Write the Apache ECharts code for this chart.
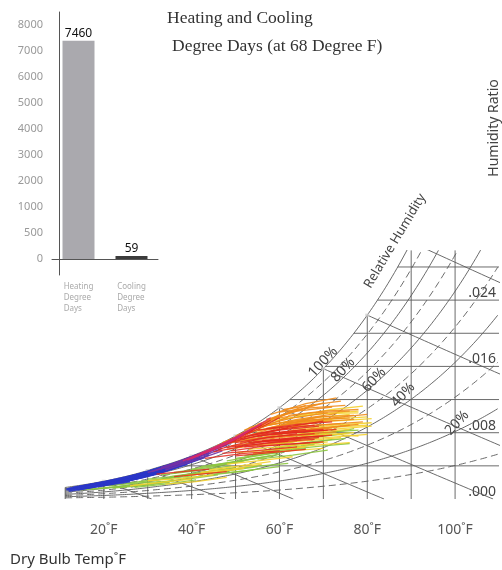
<!DOCTYPE html>
<html><head><meta charset="utf-8">
<script src="https://cdn.jsdelivr.net/npm/echarts@6/dist/echarts.min.js"></script>
<style>html,body{margin:0;padding:0;background:#fff}#c{width:502px;height:570px}</style>
</head><body><div id="c"></div>
<script>
// ---------- Bar inset: degree days ----------
const degreeDayCategories = ['Heating\nDegree\nDays', 'Cooling\nDegree\nDays'];
const degreeDayValues = [7460, 59];
const degreeDayTicks = ['0', '500', '1000', '2000', '3000', '4000', '5000', '6000', '7000', '8000'];

// ---------- Psychrometric chart axes ----------
const dryBulbTicks = [20, 40, 60, 80, 100];            // labelled dry bulb temps (°F)
const gridTemps = [20, 30, 40, 50, 60, 70, 80, 90, 100]; // vertical grid lines (°F)
const gridHumidity = [0.004, 0.008, 0.012, 0.016, 0.020, 0.024, 0.028];
const humidityTicks = [0, 0.008, 0.016, 0.024];
const rhCurves = [10, 20, 30, 40, 50, 60, 70, 80, 90, 100];
const wetBulbTemps = [20, 30, 40, 50, 60, 70, 80, 90, 100];

// ---------- Weather traces: [dry bulb °F, humidity ratio x1000] pairs ----------
const blueTraces = [
  [11.5,1.10, 16,1.55, 22,2.05], [12,1.25, 18,1.80, 24,2.40], [12,0.95, 19,1.55, 26,2.10],
  [13,1.30, 20,2.00, 27,2.75], [14,1.10, 22,1.85, 29,2.60], [15,1.50, 23,2.25, 30,3.20],
  [16,1.35, 24,2.10, 31,2.95], [18,1.70, 26,2.55, 33,3.60], [19,1.60, 27,2.40, 34,3.40],
  [20,1.95, 28,2.90, 35,4.00], [21,1.80, 29,2.70, 36,3.75], [23,2.20, 31,3.25, 38,4.45],
  [24,2.00, 32,3.00, 39,4.20], [25,2.45, 33,3.70, 40,4.95], [26,2.30, 34,3.45, 41,4.70],
  [28,2.85, 35,4.00, 42,5.40], [29,2.60, 36,3.70, 43,5.00], [30,3.20, 37,4.40, 44,5.80],
  [31,2.90, 38,4.10, 44,5.30], [14,1.45, 21,2.20, 28,3.00], [17,1.60, 25,2.50, 32,3.50],
  [22,2.15, 30,3.35, 37,4.50], [27,2.70, 34,3.90, 41,5.30],
  [11.5,1.20, 17,1.75, 23,2.30], [12.5,1.05, 18,1.50, 25,2.20], [13,1.40, 19,1.95, 26,2.65],
  [15,1.25, 21,1.75, 28,2.50], [16,1.60, 22,2.20, 29,3.00], [18,1.55, 25,2.30, 32,3.20],
  [20,1.80, 26,2.45, 33,3.40], [21,2.05, 28,3.00, 35,4.10], [23,2.05, 30,3.00, 36,3.90],
  [24,2.40, 31,3.40, 38,4.60], [26,2.55, 33,3.75, 39,4.70], [28,2.60, 35,3.70, 42,5.10],
  [30,3.00, 36,4.00, 43,5.50], [32,3.40, 38,4.50, 44,5.60], [12,1.15, 15,1.45, 20,1.90]
];
const purpleTraces = [
  [30,3.2, 37,4.3, 44,5.7], [32,3.5, 39,4.8, 46,6.2], [33,3.6, 40,5.0, 47,6.4],
  [35,4.0, 41,5.2, 48,6.7], [34,3.7, 42,5.1, 47,6.1], [36,4.1, 43,5.6, 49,7.0],
  [31,3.3, 38,4.5, 45,6.0], [37,4.5, 44,5.9, 50,7.3],
  [33,3.8, 40,5.0, 46,6.1], [36,4.3, 42,5.5, 48,6.5], [38,4.6, 44,5.7, 50,7.0], [34,3.5, 41,4.7, 47,5.8]
];
const magentaTraces = [
  [38,4.6, 44,5.9, 50,7.4], [41,5.1, 47,6.5, 53,8.2], [44,5.8, 50,7.3, 56,9.1], [40,4.9, 46,6.2, 52,7.8],
  [42,5.5, 48,6.9, 54,8.6], [46,6.3, 52,7.9, 58,9.8], [39,4.7, 45,6.0, 51,7.5]
];
const redTraces = [
  [40,5.0, 47,6.4, 54,8.3], [42,5.4, 49,7.0, 56,8.9], [44,5.9, 51,7.5, 58,9.5],
  [45,6.1, 52,7.6, 60,9.8], [47,6.5, 54,7.8, 62,8.6], [46,6.0, 55,7.2, 64,7.9],
  [48,6.2, 56,6.9, 66,7.4], [50,6.8, 58,7.5, 68,7.9], [49,5.8, 57,6.4, 67,6.8],
  [51,7.2, 60,8.0, 70,8.4], [52,6.3, 61,6.6, 70,6.9], [53,7.6, 61,8.5, 68,8.9],
  [54,6.9, 62,7.3, 72,7.7], [55,8.3, 63,8.8, 70,9.4], [47,5.5, 56,5.9, 64,6.3],
  [43,4.9, 52,5.5, 60,5.8], [56,7.0, 64,7.4, 70,7.6], [50,5.2, 58,5.6, 66,6.0],
  [32,3.0, 38,3.3, 44,3.6], [36,2.7, 42,3.0, 48,3.3],
  [48,6.7, 57,7.9, 66,8.4], [52,7.5, 60,8.3, 69,8.8], [55,7.6, 63,8.0, 71,8.3], [45,5.7, 53,6.5, 62,7.0],
  [57,8.5, 64,9.0, 72,9.3], [50,6.3, 59,6.9, 68,7.2], [53,6.8, 61,7.1, 69,7.4], [58,7.8, 66,8.1, 73,8.4]
];
const orangeTraces = [
  [45,6.2, 53,8.2, 60,10.2], [48,7.0, 56,8.9, 63,10.6], [50,7.6, 58,9.6, 66,11.3],
  [52,8.3, 60,10.0, 68,11.4], [55,9.0, 62,10.3, 70,11.6], [57,9.6, 64,10.6, 72,11.1],
  [58,10.2, 66,11.5, 73,12.2], [60,10.5, 67,11.0, 75,11.3], [53,8.6, 61,9.2, 70,9.5],
  [54,7.5, 63,8.2, 72,8.6], [56,8.0, 65,8.8, 74,9.1], [51,6.8, 60,7.4, 69,7.9],
  [58,8.6, 66,9.5, 76,9.8], [61,9.2, 69,9.9, 77,10.1], [59,7.8, 68,8.4, 76,8.9],
  [62,10.1, 70,10.6, 78,10.8], [49,6.4, 57,7.0, 65,7.2], [63,8.7, 71,9.0, 79,9.3],
  [46,6.5, 54,7.3, 62,7.7], [57,9.0, 63,9.8, 71,10.4],
  [47,6.8, 55,8.4, 62,9.9], [50,7.2, 57,8.3, 65,9.0], [53,8.0, 61,9.0, 70,10.0], [55,8.6, 64,9.6, 73,10.3],
  [59,9.7, 67,10.4, 76,10.6], [60,8.9, 68,9.3, 77,9.6], [52,7.0, 60,7.8, 68,8.3], [56,7.4, 64,7.8, 73,8.1],
  [61,10.8, 68,11.4, 74,11.8], [64,9.4, 72,9.8, 80,10.2], [48,6.0, 56,6.6, 64,7.0], [62,8.2, 70,8.6, 78,9.0]
];
const yellowTraces = [
  [52,7.3, 62,8.6, 72,9.6], [55,8.2, 65,9.3, 75,9.9], [58,9.4, 68,10.2, 78,10.6],
  [60,8.0, 70,8.6, 80,8.9], [57,7.0, 67,7.6, 77,8.0], [62,9.0, 71,9.6, 80,9.9],
  [64,10.0, 72,10.8, 79,11.2], [55,6.4, 65,7.0, 74,7.4], [59,6.0, 68,6.5, 76,6.8],
  [66,8.2, 74,8.5, 81,8.8], [61,7.5, 70,7.9, 78,7.6], [53,6.0, 62,6.4, 71,6.9],
  [68,9.3, 75,9.5, 81,9.7], [50,5.6, 58,5.9, 66,6.3], [30,2.2, 38,2.5, 45,2.9],
  [34,1.8, 41,2.1, 48,2.6],
  [56,8.8, 66,9.7, 76,10.2], [63,8.4, 72,8.9, 81,9.2], [60,9.6, 69,10.3, 78,10.4], [58,7.4, 67,8.0, 76,8.4],
  [65,7.2, 73,7.5, 80,7.8], [54,5.5, 62,5.8, 70,6.1], [38,2.8, 45,3.2, 52,3.7], [42,3.2, 49,3.6, 56,4.2],
  [26,1.6, 33,2.0, 40,2.4], [44,3.5, 51,4.0, 58,4.5], [48,4.2, 55,4.6, 63,5.1]
];
const greenTraces = [
  [25,1.9, 32,2.3, 40,2.8], [28,2.1, 36,2.6, 44,3.2], [33,2.9, 41,3.4, 49,4.0],
  [36,3.2, 44,3.8, 52,4.6], [40,3.6, 48,4.3, 56,5.0], [44,4.0, 52,4.7, 60,5.4],
  [48,4.6, 56,5.3, 64,6.0], [52,5.2, 60,5.8, 68,6.6], [56,5.8, 64,6.5, 72,7.2],
  [60,6.6, 68,7.4, 76,8.0], [63,7.2, 70,7.8, 77,8.5], [46,3.4, 54,3.9, 62,4.3],
  [38,2.5, 46,3.0, 54,3.5], [55,4.8, 63,5.3, 71,5.9], [58,6.8, 66,7.5, 74,7.8],
  [62,6.0, 70,6.4, 76,6.7], [20,1.6, 27,1.9, 33,2.1], [14,1.1, 20,1.3, 26,1.6],
  [30,2.4, 37,2.8, 44,3.3], [35,2.7, 42,3.2, 50,3.8], [42,3.9, 50,4.5, 58,5.2], [50,4.9, 58,5.5, 66,6.1],
  [54,5.4, 62,6.1, 70,6.9], [59,6.2, 67,6.9, 75,7.3], [65,7.6, 72,8.1, 78,8.3], [24,1.5, 30,1.8, 36,2.2],
  [45,3.0, 52,3.4, 60,3.9], [17,1.2, 23,1.5, 29,1.8],
  [22,1.3, 28,1.6, 35,2.0], [27,1.4, 34,1.8, 41,2.3], [32,2.0, 39,2.4, 46,2.9], [40,2.9, 47,3.3, 55,3.9]
];

// ---------- psychrometric relations (chart structure) ----------
const P_ATM = 101.325, T_MIN = 11.2, T_MAX = 110, W_MAX = 0.030;
function pws(tf) {
  const c = (tf - 32) / 1.8;
  return c < 0 ? 0.61115 * Math.exp(22.452 * c / (272.55 + c))
               : 0.61094 * Math.exp(17.625 * c / (243.04 + c));
}
function wAt(tf, rh) { const p = rh * pws(tf); return 0.622 * p / (P_ATM - p); }
function tSat(w) { let lo = -20, hi = 130; for (let i = 0; i < 60; i++) { const m = (lo + hi) / 2; if (wAt(m, 1) < w) lo = m; else hi = m; } return (lo + hi) / 2; }
function wWet(t, twb) {
  const ws = wAt(twb, 1);
  if (twb >= 32) return ((1093 - 0.556 * twb) * ws - 0.240 * (t - twb)) / (1093 + 0.444 * t - twb);
  return ((1220 - 0.04 * twb) * ws - 0.240 * (t - twb)) / (1220 + 0.444 * t - 0.48 * twb);
}

const GRID_COLOR = '#5a5a5a';
const series = [];
rhCurves.forEach(rh => {
  const pts = [];
  for (let t = T_MIN; t <= T_MAX; t += 0.5) { const w = wAt(t, rh / 100); pts.push([t, w]); if (w > W_MAX) break; }
  series.push({ type: 'line', xAxisIndex: 0, yAxisIndex: 0, data: pts, showSymbol: false, silent: true, clip: true,
    lineStyle: { color: GRID_COLOR, width: 0.9, type: (rh % 20 === 0) ? 'solid' : [7, 4] }, z: 1 });
});
[T_MIN].concat(gridTemps).forEach(t => {
  series.push({ type: 'line', xAxisIndex: 0, yAxisIndex: 0, data: [[t, 0], [t, Math.min(wAt(t, 1), W_MAX)]],
    showSymbol: false, silent: true, lineStyle: { color: GRID_COLOR, width: 0.9 }, z: 1 });
});
gridHumidity.forEach(w => {
  series.push({ type: 'line', xAxisIndex: 0, yAxisIndex: 0, data: [[tSat(w), w], [T_MAX, w]],
    showSymbol: false, silent: true, lineStyle: { color: GRID_COLOR, width: 0.9 }, z: 1 });
});
const wbStarts = [];
wetBulbTemps.forEach(twb => {
  const pts = [];
  let prevT = twb, prevW = wAt(twb, 1);
  pts.push([prevT, prevW]);
  for (let t = twb + 1; t <= 160; t += 1) {
    const w = wWet(t, twb);
    if (w <= 0) { const f = prevW / (prevW - w); pts.push([prevT + f * (t - prevT), 0]); break; }
    pts.push([t, w]); prevT = t; prevW = w;
  }
  wbStarts.push([twb, wAt(twb, 1)]);
  series.push({ type: 'line', xAxisIndex: 0, yAxisIndex: 0, data: pts, showSymbol: false, silent: true, clip: true,
    lineStyle: { color: GRID_COLOR, width: 0.9 }, z: 1 });
});
series.push({ type: 'scatter', xAxisIndex: 0, yAxisIndex: 0, data: wbStarts, symbol: 'rect', symbolSize: [4, 3],
  itemStyle: { color: '#cfcfcf' }, silent: true, z: 1 });

function traceSeries(traces, color, opacity, width) {
  return {
    type: 'lines', coordinateSystem: 'cartesian2d', xAxisIndex: 0, yAxisIndex: 0, polyline: true, silent: true,
    data: traces.map(tr => { const c = []; for (let i = 0; i < tr.length; i += 2) c.push([tr[i], tr[i + 1] / 1000]); return { coords: c }; }),
    lineStyle: { color: color, width: width, opacity: opacity }, z: 3
  };
}
series.push(traceSeries(greenTraces, '#8cc63f', 0.9, 1.3));
series.push(traceSeries(yellowTraces, '#f4d02e', 0.9, 1.3));
series.push(traceSeries(blueTraces, '#2a36c8', 0.9, 1.6));
series.push(traceSeries(purpleTraces, '#7232a6', 0.9, 1.4));
series.push(traceSeries(orangeTraces, '#f08c1c', 0.9, 1.3));
series.push(traceSeries(redTraces, '#e3281f', 0.85, 1.3));
series.push(traceSeries(magentaTraces, '#d42a6e', 0.85, 1.3));

series.push({
  type: 'bar', xAxisIndex: 1, yAxisIndex: 1, barWidth: 32, barMinHeight: 3,
  data: degreeDayValues.map((v, i) => ({ value: v, itemStyle: { color: i === 0 ? '#aaa9ae' : '#3c3c3c' } })),
  label: { show: true, position: 'top', distance: 1, color: '#111', fontSize: 12, fontFamily: 'Noto Sans' }
});

const chart = echarts.init(document.getElementById('c'), null, { renderer: 'canvas' });
chart.setOption({
  animation: false,
  backgroundColor: '#fff',
  title: [
    { text: 'Heating and Cooling', left: 167, top: 9, padding: 0, textStyle: { fontFamily: 'Liberation Serif', fontWeight: 'normal', fontSize: 17.5, color: '#333' } },
    { text: 'Degree Days (at 68 Degree F)', left: 172, top: 37, padding: 0, textStyle: { fontFamily: 'Liberation Serif', fontWeight: 'normal', fontSize: 17.5, color: '#333' } }
  ],
  grid: [
    { left: 16, top: 250.4, width: 489.5, height: 248.6 },
    { left: 52, top: 12, width: 106, height: 263 },
    { left: 52, top: 25, width: 106, height: 234 }
  ],
  xAxis: [
    { gridIndex: 0, type: 'value', min: 0, max: T_MAX, interval: 20,
      axisLine: { show: false }, axisTick: { show: false }, splitLine: { show: false },
      axisLabel: { margin: 24, fontSize: 14, color: '#555', fontFamily: 'Noto Sans',
        formatter: v => dryBulbTicks.includes(v) ? v + '˚F' : '' } },
    { gridIndex: 1, type: 'category', data: degreeDayCategories,
      axisLine: { onZero: true, lineStyle: { color: '#555', width: 1 } }, axisTick: { show: false },
      axisLabel: { interval: 0, margin: 6, fontSize: 8, color: '#aaa', fontFamily: 'Noto Sans', lineHeight: 11,
        formatter: v => v.split('\n').map(s => '{a|' + s + '}').join('\n'),
        rich: { a: { align: 'left', fontSize: 8, color: '#aaa', lineHeight: 11 } } } },
    { gridIndex: 2, type: 'value', show: false }
  ],
  yAxis: [
    { gridIndex: 0, type: 'value', position: 'right', min: 0, max: W_MAX, interval: 0.008,
      axisLine: { show: false }, axisTick: { show: false }, splitLine: { show: false },
      axisLabel: { inside: true, margin: 3, fontSize: 14, color: '#444', fontFamily: 'Noto Sans', verticalAlign: 'bottom',
        formatter: v => humidityTicks.some(h => Math.abs(h - v) < 1e-9) ? v.toFixed(3).replace(/^0/, '') : '' } },
    { gridIndex: 1, type: 'value', min: -547, max: 8444, offset: -7,
      axisLine: { show: true, lineStyle: { color: '#555', width: 1 } }, axisTick: { show: false }, splitLine: { show: false },
      axisLabel: { show: false } },
    { gridIndex: 2, type: 'category', data: degreeDayTicks, boundaryGap: false, offset: -7,
      axisLine: { show: false }, axisTick: { show: false }, splitLine: { show: false },
      axisLabel: { interval: 0, margin: 16, fontSize: 11, color: '#999', fontFamily: 'Noto Sans' } }
  ],
  graphic: [
    { type: 'text', x: 494, y: 128, rotation: Math.PI / 2,
      style: { text: 'Humidity Ratio', align: 'center', verticalAlign: 'middle', textAlign: 'center', textVerticalAlign: 'middle', font: '14px "Noto Sans"', fill: '#444' } },
    { type: 'text', x: 395, y: 241, rotation: 59 * Math.PI / 180,
      style: { text: 'Relative Humidity', align: 'center', verticalAlign: 'middle', textAlign: 'center', textVerticalAlign: 'middle', font: '13px "Noto Sans"', fill: '#444' } },
    { type: 'text', x: 323, y: 362, rotation: 47 * Math.PI / 180,
      style: { text: '100%', align: 'center', verticalAlign: 'middle', textAlign: 'center', textVerticalAlign: 'middle', font: '14px "Noto Sans"', fill: '#444' } },
    { type: 'text', x: 343, y: 370, rotation: 47 * Math.PI / 180,
      style: { text: '80%', align: 'center', verticalAlign: 'middle', textAlign: 'center', textVerticalAlign: 'middle', font: '14px "Noto Sans"', fill: '#444' } },
    { type: 'text', x: 374, y: 380, rotation: 47 * Math.PI / 180,
      style: { text: '60%', align: 'center', verticalAlign: 'middle', textAlign: 'center', textVerticalAlign: 'middle', font: '14px "Noto Sans"', fill: '#444' } },
    { type: 'text', x: 403, y: 395, rotation: 47 * Math.PI / 180,
      style: { text: '40%', align: 'center', verticalAlign: 'middle', textAlign: 'center', textVerticalAlign: 'middle', font: '14px "Noto Sans"', fill: '#444' } },
    { type: 'text', x: 457, y: 423, rotation: 47 * Math.PI / 180,
      style: { text: '20%', align: 'center', verticalAlign: 'middle', textAlign: 'center', textVerticalAlign: 'middle', font: '14px "Noto Sans"', fill: '#444' } },
    { type: 'text', x: 10, y: 560,
      style: { text: 'Dry Bulb Temp˚F', align: 'left', verticalAlign: 'middle', textAlign: 'left', textVerticalAlign: 'middle', font: '15px "Noto Sans"', fill: '#333' } }
  ],
  series: series
});
</script></body></html>
